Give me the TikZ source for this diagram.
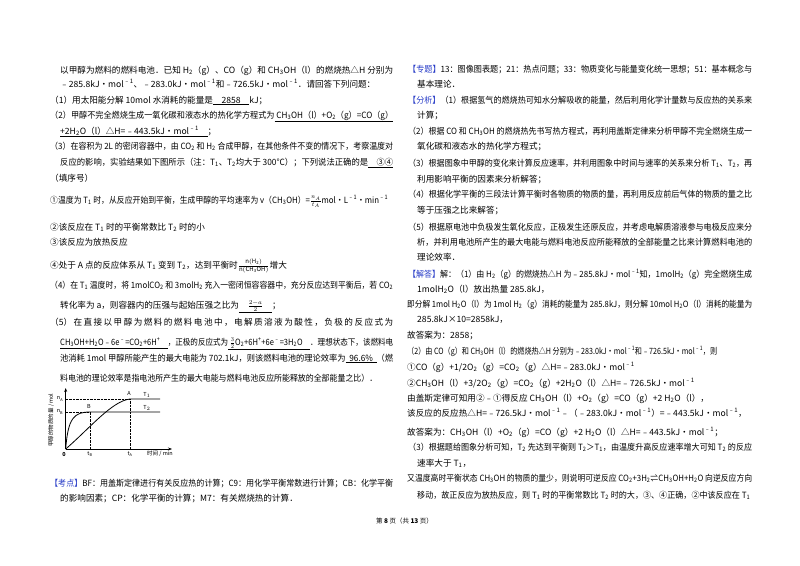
\documentclass[tikz,border=0pt]{standalone}
\usepackage{fontspec}
\usepackage{graphicx}
\usetikzlibrary{arrows.meta}
\setmainfont{Noto Sans CJK SC}
\definecolor{kb}{RGB}{40,60,200}
\newcommand\subr[1]{\textsubscript{#1}}
\newcommand\supr[1]{\textsuperscript{#1}}
\newsavebox\fitbox
\newcommand\fitw[2]{\sbox\fitbox{#2}\scalebox{\fpeval{(#1)/(\the\wd\fitbox)}}[1]{\usebox\fitbox}}
\newcounter{tc}
\newcommand\tl[3]{\stepcounter{tc}\node[txt] (t\thetc) at (#1,#2+3) {#3};}
\newcommand\mol{kJ•mol\supr{﹣1}}
\begin{document}
\begin{tikzpicture}[x=1pt,y=-1pt,txt/.style={anchor=base west,inner sep=0pt,font=\fontsize{8.6}{10}\selectfont}]
\useasboundingbox (0,0) rectangle (800,565);
\fill[white] (0,0) rectangle (800,565);
% left column
\tl{60}{70}{\fitw{333}{以甲醇为燃料的燃料电池．已知 H\subr{2}（g）、CO（g）和 CH\subr{3}OH（l）的燃烧热△H 分别为}}
\tl{60}{84}{﹣285.8\mol、﹣283.0\mol 和﹣726.5\mol．请回答下列问题：}
\tl{50}{100}{（1）用太阳能分解 10mol 水消耗的能量是\underline{\quad 2858\quad}kJ；}
\tl{50}{115}{\fitw{343}{（2）甲醇不完全燃烧生成一氧化碳和液态水的热化学方程式为\underline{\ CH\subr{3}OH（l）+O\subr{2}（g）=CO（g）}}}
\tl{60}{131}{\underline{+2H\subr{2}O（l）△H=﹣443.5\mol\quad}；}
\tl{50}{146}{\fitw{343}{（3）在容积为 2L 的密闭容器中，由 CO\subr{2} 和 H\subr{2} 合成甲醇，在其他条件不变的情况下，考察温度对}}
\tl{60}{162}{\fitw{333}{反应的影响，实验结果如下图所示（注：T\subr{1}、T\subr{2}均大于 300℃）；下列说法正确的是\underline{\quad ③④}}}
\tl{50}{178}{（填序号）}
\tl{50}{200}{\fitw{338}{①温度为 T\subr{1} 时，从反应开始到平衡，生成甲醇的平均速率为 v（CH\subr{3}OH）=$\frac{n_A}{t_A}$mol•L\supr{﹣1}•min\supr{﹣1}}}
\tl{50}{227}{②该反应在 T\subr{1} 时的平衡常数比 T\subr{2} 时的小}
\tl{50}{242}{③该反应为放热反应}
\tl{50}{265}{④处于 A 点的反应体系从 T\subr{1} 变到 T\subr{2}，达到平衡时$\frac{\mathrm{n(H_2)}}{\mathrm{n(CH_3OH)}}$增大}
\tl{50}{285}{\fitw{343}{（4）在 T\subr{1} 温度时，将 1molCO\subr{2} 和 3molH\subr{2} 充入一密闭恒容容器中，充分反应达到平衡后，若 CO\subr{2}}}
\tl{60}{305}{转化率为 a，则容器内的压强与起始压强之比为\underline{\quad$\frac{2-a}{2}$\quad}；}
\tl{50}{322}{\makebox[343pt][s]{（5） 在 直 接 以 甲 醇 为 燃 料 的 燃 料 电 池 中 ， 电 解 质 溶 液 为 酸 性 ， 负 极 的 反 应 式 为}}
\tl{60}{342}{\fitw{333}{\underline{CH\subr{3}OH+H\subr{2}O﹣6e\supr{﹣}=CO\subr{2}+6H\supr{+}\quad}，正极的反应式为\underline{\ $\frac{3}{2}$O\subr{2}+6H\supr{+}+6e\supr{﹣}=3H\subr{2}O\quad}．理想状态下，该燃料电}}
\tl{60}{358}{\fitw{333}{池消耗 1mol 甲醇所能产生的最大电能为 702.1kJ，则该燃料电池的理论效率为\underline{\ \ 96.6\%\ \ }（燃}}
\tl{60}{378}{\fitw{317}{料电池的理论效率是指电池所产生的最大电能与燃料电池反应所能释放的全部能量之比）．}}
\tl{50}{483}{\fitw{343}{{\color{kb}【考点】}BF：用盖斯定律进行有关反应热的计算；C9：用化学平衡常数进行计算；CB：化学平衡}}
\tl{60}{498}{的影响因素；CP：化学平衡的计算；M7：有关燃烧热的计算．}
% footer
\node[txt,font=\fontsize{6.5}{8}\selectfont] (foot) at (376,523) {第 \textbf{8} 页（共 \textbf{13} 页）};
% right column
\tl{408}{69}{\fitw{344}{{\color{kb}【专题】}13：图像图表题；21：热点问题；33：物质变化与能量变化统一思想；51：基本概念与}}
\tl{417}{84}{基本理论．}
\tl{408}{100}{\fitw{344}{{\color{kb}【分析】}（1）根据氢气的燃烧热可知水分解吸收的能量，然后利用化学计量数与反应热的关系来}}
\tl{417}{115}{计算；}
\tl{408}{131}{\fitw{344}{（2）根据 CO 和 CH\subr{3}OH 的燃烧热先书写热方程式，再利用盖斯定律来分析甲醇不完全燃烧生成一}}
\tl{417}{146}{氧化碳和液态水的热化学方程式；}
\tl{408}{163}{\fitw{344}{（3）根据图象中甲醇的变化来计算反应速率，并利用图象中时间与速率的关系来分析 T\subr{1}、T\subr{2}，再}}
\tl{417}{179}{利用影响平衡的因素来分析解答；}
\tl{408}{194}{\fitw{344}{（4）根据化学平衡的三段法计算平衡时各物质的物质的量，再利用反应前后气体的物质的量之比}}
\tl{417}{210}{等于压强之比来解答；}
\tl{408}{227}{\fitw{344}{（5）根据原电池中负极发生氧化反应，正极发生还原反应，并考虑电解质溶液参与电极反应来分}}
\tl{417}{242}{\fitw{335}{析，并利用电池所产生的最大电能与燃料电池反应所能释放的全部能量之比来计算燃料电池的}}
\tl{417}{257}{理论效率．}
\tl{408}{274}{\fitw{344}{{\color{kb}【解答】}解：（1）由 H\subr{2}（g）的燃烧热△H 为﹣285.8\mol 知，1molH\subr{2}（g）完全燃烧生成}}
\tl{417}{289}{1molH\subr{2}O（l）放出热量 285.8kJ，}
\tl{407}{304}{\fitw{345}{即分解 1mol H\subr{2}O（l）为 1mol H\subr{2}（g）消耗的能量为 285.8kJ，则分解 10mol H\subr{2}O（l）消耗的能量为}}
\tl{417}{319}{285.8kJ×10=2858kJ，}
\tl{407}{335}{故答案为：2858；}
\tl{407}{351}{\fitw{310}{（2）由 CO（g）和 CH\subr{3}OH（l）的燃烧热△H 分别为﹣283.0\mol 和﹣726.5\mol，则}}
\tl{407}{367}{①CO（g）+1/2O\subr{2}（g）=CO\subr{2}（g）△H=﹣283.0\mol}
\tl{407}{383}{②CH\subr{3}OH（l）+3/2O\subr{2}（g）=CO\subr{2}（g）+2H\subr{2}O（l）△H=﹣726.5\mol}
\tl{407}{398}{由盖斯定律可知用②﹣①得反应 CH\subr{3}OH（l）+O\subr{2}（g）=CO（g）+2 H\subr{2}O（l），}
\tl{407}{413}{该反应的反应热△H=﹣726.5\mol﹣（﹣283.0\mol）=﹣443.5\mol，}
\tl{407}{432}{故答案为：CH\subr{3}OH（l）+O\subr{2}（g）=CO（g）+2 H\subr{2}O（l）△H=﹣443.5\mol；}
\tl{408}{447}{\fitw{344}{（3）根据题给图象分析可知，T\subr{2} 先达到平衡则 T\subr{2}＞T\subr{1}，由温度升高反应速率增大可知 T\subr{2} 的反应}}
\tl{417}{463}{速率大于 T\subr{1}，}
\tl{407}{478}{\fitw{345}{又温度高时平衡状态 CH\subr{3}OH 的物质的量少，则说明可逆反应 CO\subr{2}+3H\subr{2}⇌CH\subr{3}OH+H\subr{2}O 向逆反应方向}}
\tl{417}{495}{\fitw{333}{移动，故正反应为放热反应，则 T\subr{1} 时的平衡常数比 T\subr{2} 时的大，③、④正确，②中该反应在 T\subr{1}}}
% graph
\begin{scope}[font=\fontsize{5.5}{6}\selectfont]
\coordinate (O) at (65.7,449);
\draw[thick,-{Stealth[length=4pt]}] (O) -- (65.7,388);
\draw[thick,-{Stealth[length=4pt]}] (O) -- (172,449);
\draw[thick] (O) .. controls (68,418) and (74,412) .. (90,412) -- (160,412);
\draw[thick] (O) .. controls (90,428) and (112,401) .. (130,399) -- (160,399);
\draw[densely dotted] (65.7,399) -- (130,399) -- (130,449);
\draw[densely dotted] (65.7,412) -- (90,412) -- (90,449);
\node (nA) at (60,399) {n$_\mathrm{A}$};
\node (nB) at (60,412) {n$_\mathrm{B}$};
\node (lA) at (129,393.5) {A};
\node (lB) at (89,406.5) {B};
\node (lT1) at (147,395) {\textit{T}$_1$};
\node (lT2) at (147,408) {\textit{T}$_2$};
\node (l0) at (64,454) {\textbf{0}};
\node (ltB) at (90,454) {t$_\mathrm{B}$};
\node (ltA) at (130,454) {t$_\mathrm{A}$};
\node (lt) at (160,454) {时间 / min};
\node[rotate=90] (ly) at (51,420) {甲醇的物质的量 / mol};
\end{scope}
\end{tikzpicture}
\end{document}
